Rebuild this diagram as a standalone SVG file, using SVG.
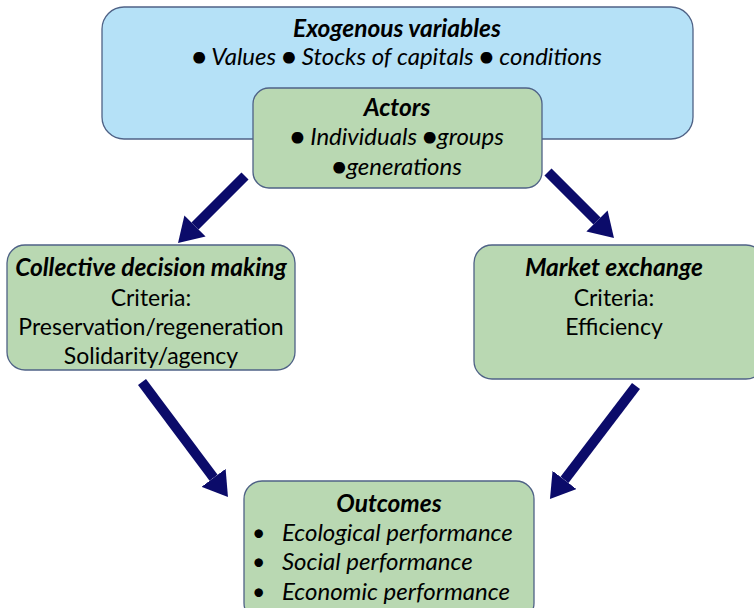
<svg xmlns="http://www.w3.org/2000/svg" width="754" height="608" viewBox="0 0 754 608">
<style>
.box{stroke:#4f6286;stroke-width:1.3}
.blue{fill:#b5e1f7}
.green{fill:#b9d8b2}
text{font-family:Lato,"Open Sans","Liberation Sans",sans-serif;font-size:23px;fill:#000;text-anchor:middle}
.t{font-weight:bold;font-style:italic;font-size:24.5px}
.i{font-style:italic;font-size:24px}
.l{text-anchor:start}
.arr{stroke:#0b0b6a;stroke-width:10;fill:none}
</style>
<defs>
<marker id="ah" viewBox="0 0 24 30" refX="0" refY="15" markerWidth="24" markerHeight="30" markerUnits="userSpaceOnUse" orient="auto">
<path d="M0,0 L24,15 L0,30 z" fill="#0b0b6a"/>
</marker>
</defs>
<g id="exogenous">
<rect class="box blue" x="102" y="7" width="591" height="132" rx="22"/>
<text class="t" x="397" y="37">Exogenous variables</text>
<text class="i" x="397" y="65">● Values ● Stocks of capitals ● conditions</text>
</g>
<g id="actors">
<rect class="box green" x="253" y="88" width="289" height="100" rx="16"/>
<text class="t" x="397" y="116">Actors</text>
<text class="i" x="397" y="145">● Individuals ●groups</text>
<text class="i" x="397" y="175">●generations</text>
</g>
<g id="collective">
<rect class="box green" x="7" y="245" width="288" height="125" rx="18"/>
<text class="t" x="151" y="276">Collective decision making</text>
<text x="151" y="306">Criteria:</text>
<text x="151" y="335">Preservation/regeneration</text>
<text x="151" y="364">Solidarity/agency</text>
</g>
<g id="market">
<rect class="box green" x="474" y="245" width="290" height="134" rx="18"/>
<text class="t" x="614" y="276">Market exchange</text>
<text x="614" y="306">Criteria:</text>
<text x="614" y="335">Efficiency</text>
</g>
<g id="outcomes">
<rect class="box green" x="244" y="481" width="290" height="140" rx="18"/>
<text class="t" x="389" y="512">Outcomes</text>
<text class="l" x="252" y="541">•</text>
<text class="l i" x="282" y="541">Ecological performance</text>
<text class="l" x="252" y="570">•</text>
<text class="l i" x="282" y="570">Social performance</text>
<text class="l" x="252" y="600">•</text>
<text class="l i" x="282" y="600">Economic performance</text>
</g>
<g id="connectors">
<line class="arr" x1="245" y1="176" x2="195" y2="226" marker-end="url(#ah)"/>
<line class="arr" x1="548" y1="172" x2="597" y2="221" marker-end="url(#ah)"/>
<line class="arr" x1="142" y1="382" x2="213.6" y2="477.8" marker-end="url(#ah)"/>
<line class="arr" x1="636" y1="386" x2="564.5" y2="479.9" marker-end="url(#ah)"/>
</g>
</svg>
